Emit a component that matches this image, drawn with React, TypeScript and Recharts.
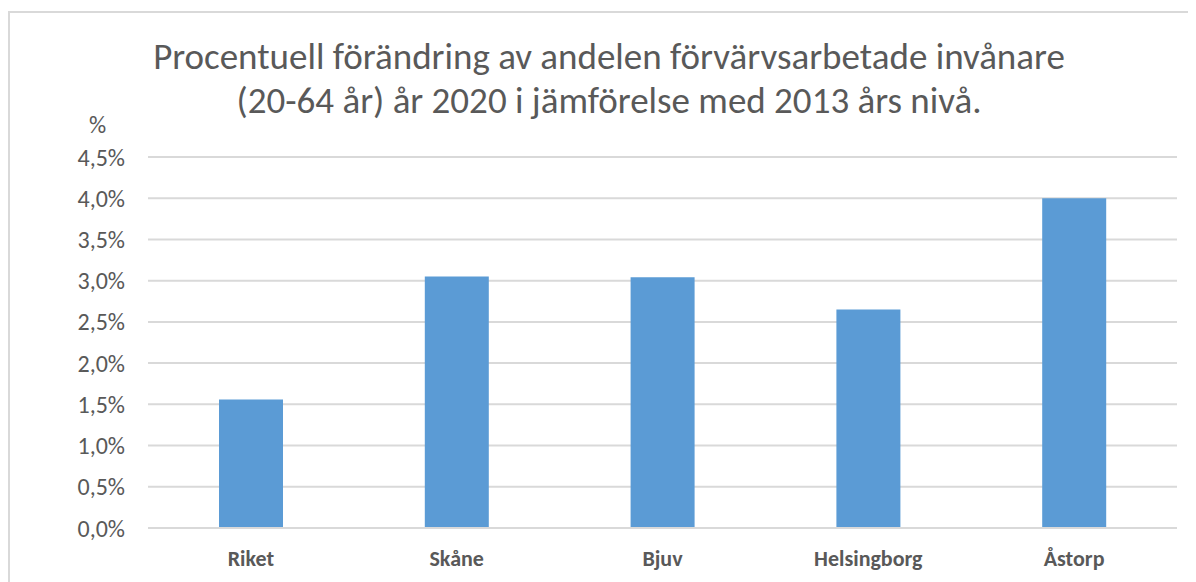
import React from "react";
import { BarChart, Bar, XAxis, YAxis, CartesianGrid } from "recharts";

const categories = ["Riket", "Skåne", "Bjuv", "Helsingborg", "Åstorp"];
const values = [1.56, 3.05, 3.04, 2.65, 4.0];
const yTicks = [0, 0.5, 1, 1.5, 2, 2.5, 3, 3.5, 4, 4.5];
const titleLines = [
  "Procentuell förändring av andelen förvärvsarbetade invånare",
  "(20-64 år) år 2020 i jämförelse med 2013 års nivå.",
];
const unitLabel = "%";

const data = categories.map((name, i) => ({ name, value: values[i] }));
const fmt = (v: number) => v.toFixed(1).replace(".", ",") + "%";
const FONT = "Carlito, 'Open Sans', sans-serif";
const GREY = "#595959";

export default function App() {
  return (
    <div style={{ position: "relative", width: 1188, height: 574, fontFamily: FONT }}>
      <div
        style={{
          position: "absolute",
          left: 0,
          top: 3,
          width: 1188,
          height: 571,
          borderTop: "2px solid #d9d9d9",
          borderLeft: "2px solid #d9d9d9",
          boxSizing: "border-box",
        }}
      />
      <div
        style={{
          position: "absolute",
          left: 0,
          top: 27,
          width: 1202,
          textAlign: "center",
          color: GREY,
          fontSize: 37,
          lineHeight: "44px",
          whiteSpace: "nowrap",
        }}
      >
        {titleLines.map((t) => (
          <div key={t}>{t}</div>
        ))}
      </div>
      <div
        style={{
          position: "absolute",
          left: 81,
          top: 105,
          color: GREY,
          fontSize: 24,
          lineHeight: "24px",
        }}
      >
        {unitLabel}
      </div>
      <div style={{ position: "absolute", left: 0, top: 0 }}>
        <BarChart
          width={1188}
          height={574}
          data={data}
          margin={{ top: 149, right: 19, bottom: 24, left: 80 }}
          barCategoryGap="34.5%"
        >
          <CartesianGrid vertical={false} stroke="#d9d9d9" strokeWidth={2} />
          <XAxis
            dataKey="name"
            axisLine={{ stroke: "#d9d9d9", strokeWidth: 2 }}
            tickLine={false}
            height={30}
            tickMargin={16}
            tick={{ fill: GREY, fontSize: 22, fontWeight: 700, fontFamily: FONT }}
          />
          <YAxis
            width={60}
            domain={[0, 4.5]}
            ticks={yTicks}
            tickFormatter={fmt}
            axisLine={false}
            tickLine={false}
            tickSize={0}
            tickMargin={23}
            interval={0}
            tick={{ fill: GREY, fontSize: 24, fontFamily: FONT }}
          />
          <Bar dataKey="value" fill="#5b9bd5" isAnimationActive={false} />
        </BarChart>
      </div>
    </div>
  );
}
